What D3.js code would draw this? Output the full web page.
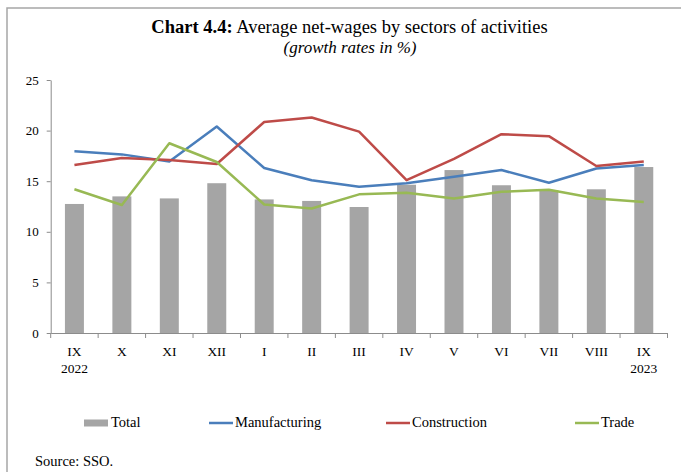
<!DOCTYPE html>
<html>
<head>
<meta charset="utf-8">
<script src="https://cdn.jsdelivr.net/npm/d3@7"></script>
<style>
  body { margin: 0; background: #fff; }
  svg { display: block; }
  .axis text { font-family: "Liberation Serif", serif; font-size: 13px; fill: #000; }
  .axis path, .axis line { stroke: #8c8c8c; }
</style>
</head>
<body>
<div id="chart"></div>
<script>
const months = ['IX', 'X', 'XI', 'XII', 'I', 'II', 'III', 'IV', 'V', 'VI', 'VII', 'VIII', 'IX'];
const years = ['2022', '', '', '', '', '', '', '', '', '', '', '', '2023'];
const total = [12.75, 13.5, 13.3, 14.8, 13.2, 13.05, 12.45, 14.65, 16.1, 14.6, 14.1, 14.2, 16.4];
const manufacturing = [17.95, 17.65, 16.95, 20.4, 16.3, 15.1, 14.45, 14.8, 15.45, 16.1, 14.85, 16.25, 16.6];
const construction = [16.6, 17.3, 17.1, 16.7, 20.85, 21.3, 19.9, 15.1, 17.2, 19.65, 19.45, 16.5, 16.95];
const trade = [14.2, 12.65, 18.75, 16.9, 12.7, 12.3, 13.7, 13.85, 13.3, 13.95, 14.15, 13.3, 12.95];
const yTicks = [0, 5, 10, 15, 20, 25];

const width = 681, height = 472;
const plotLeft = 50.7, plotRight = 667.5, plotTop = 80, plotBottom = 333;

const svg = d3.select('#chart').append('svg')
  .attr('width', width)
  .attr('height', height);

// outer frame (top and left edges visible)
svg.append('path')
  .attr('d', `M7,${height} L7,8 L${width},8`)
  .attr('fill', 'none')
  .attr('stroke', '#a6a6a6')
  .attr('stroke-width', 1.5);

// title
const title = svg.append('text')
  .attr('x', 349.5)
  .attr('y', 33)
  .attr('text-anchor', 'middle')
  .style('font-family', '"Liberation Serif", serif')
  .style('font-size', '18.5px');
title.append('tspan').style('font-weight', 'bold').text('Chart 4.4:');
title.append('tspan').text(' Average net-wages by sectors of activities');

svg.append('text')
  .attr('x', 350)
  .attr('y', 53)
  .attr('text-anchor', 'middle')
  .style('font-family', '"Liberation Serif", serif')
  .style('font-size', '17px')
  .style('font-style', 'italic')
  .text('(growth rates in %)');

const x = d3.scaleBand()
  .domain(d3.range(months.length))
  .range([plotLeft, plotRight])
  .paddingInner(0.6)
  .paddingOuter(0.3);

const y = d3.scaleLinear().domain([0, 25]).range([plotBottom, plotTop]);

// bars
svg.append('g').selectAll('rect')
  .data(total)
  .join('rect')
  .attr('x', (d, i) => x(i))
  .attr('y', d => y(d))
  .attr('width', x.bandwidth())
  .attr('height', d => y(0) - y(d))
  .attr('fill', '#a5a5a5');

// y axis
svg.append('g')
  .attr('class', 'axis')
  .attr('transform', `translate(${plotLeft},0)`)
  .call(d3.axisLeft(y).tickValues(yTicks).tickSize(4).tickPadding(8).tickSizeOuter(0));

// x axis
const xAxis = svg.append('g')
  .attr('class', 'axis')
  .attr('transform', `translate(0,${plotBottom})`)
  .call(d3.axisBottom(x).tickSize(0).tickSizeOuter(0).tickFormat(''));

const step = x.step();
xAxis.selectAll('.bound')
  .data(d3.range(months.length + 1))
  .join('line')
  .attr('class', 'bound')
  .attr('x1', i => plotLeft + i * step)
  .attr('x2', i => plotLeft + i * step)
  .attr('y1', 0)
  .attr('y2', 5);

const labels = svg.append('g')
  .style('font-family', '"Liberation Serif", serif')
  .style('font-size', '13.5px')
  .attr('text-anchor', 'middle');

labels.selectAll('.m')
  .data(months)
  .join('text')
  .attr('class', 'm')
  .attr('x', (d, i) => x(i) + x.bandwidth() / 2)
  .attr('y', 356)
  .text(d => d);

labels.selectAll('.yr')
  .data(years)
  .join('text')
  .attr('class', 'yr')
  .attr('x', (d, i) => x(i) + x.bandwidth() / 2)
  .attr('y', 373)
  .text(d => d);

// lines
const series = [
  { name: 'Manufacturing', values: manufacturing, color: '#4a7ebb' },
  { name: 'Construction', values: construction, color: '#be4b48' },
  { name: 'Trade', values: trade, color: '#98b954' }
];

const line = d3.line()
  .x((d, i) => x(i) + x.bandwidth() / 2)
  .y(d => y(d));

svg.append('g').selectAll('path')
  .data(series)
  .join('path')
  .attr('d', d => line(d.values))
  .attr('fill', 'none')
  .attr('stroke', d => d.color)
  .attr('stroke-width', 2.5)
  .attr('stroke-linejoin', 'round');

// legend
const legend = svg.append('g')
  .style('font-family', '"Liberation Serif", serif')
  .style('font-size', '14.5px');

legend.append('rect')
  .attr('x', 84).attr('y', 419.5)
  .attr('width', 24).attr('height', 7)
  .attr('fill', '#a5a5a5');
legend.append('text').attr('x', 111).attr('y', 427).text('Total');

const legendX = [209, 386, 575];
series.forEach((s, i) => {
  legend.append('line')
    .attr('x1', legendX[i]).attr('x2', legendX[i] + 24)
    .attr('y1', 423).attr('y2', 423)
    .attr('stroke', s.color)
    .attr('stroke-width', 2.5);
  legend.append('text')
    .attr('x', legendX[i] + 26).attr('y', 427)
    .text(s.name);
});

svg.append('text')
  .attr('x', 35)
  .attr('y', 466)
  .style('font-family', '"Liberation Serif", serif')
  .style('font-size', '14.5px')
  .text('Source: SSO.');
</script>
</body>
</html>
